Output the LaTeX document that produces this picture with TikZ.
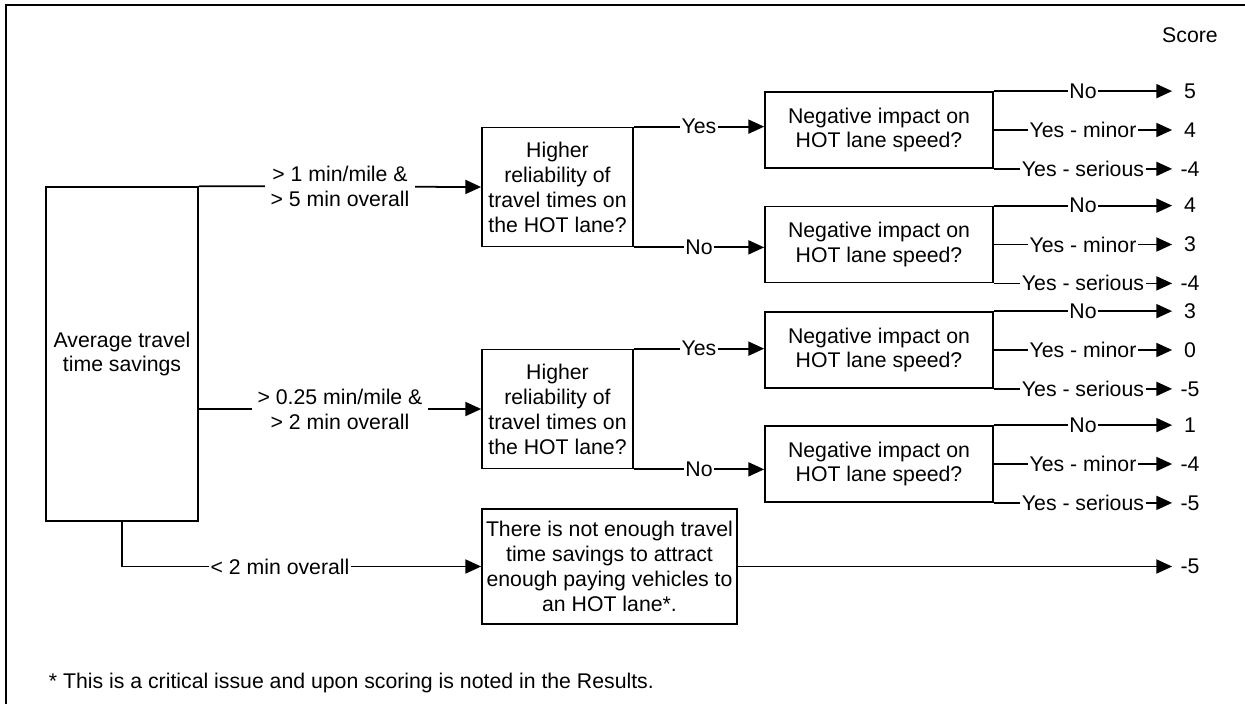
\documentclass[tikz,border=0pt]{standalone}
\usepackage{fontspec}
\setmainfont{Liberation Sans}
\usetikzlibrary{arrows.meta}

\begin{document}
\begin{tikzpicture}[x=0.02cm, y=-0.02cm, line width=1pt, every node/.style={font=\fontsize{12.1}{14.2}\selectfont},
	box/.style={draw, align=center, inner sep=0pt},
	lbl/.style={fill=white, inner sep=1pt, align=center},
	cond/.style={lbl, inner sep=3pt},
	arr/.style={-{Triangle[length=9pt,width=8pt]}},
	score/.style={minimum width=0.68cm, inner sep=0pt}]
	\useasboundingbox (0,0) rectangle (1245,704);
	\draw[line width=1.2pt] (1245,5) -- (6,5) -- (6,704);
	\coordinate (scol) at (1190,0);
	\node (scorehd) at (1190,35) {Score};
	\node[box, minimum width=3.04cm, minimum height=6.68cm] (avg) at (122,354) {Average travel\\time savings};
	\foreach \n/\y in {1/187, 2/409} {\node[box, minimum width=3.02cm, minimum height=2.38cm] (rel\n) at (557.5,\y) {Higher\\reliability of\\travel times on\\the HOT lane?};}
	\foreach \n/\y in {1/130, 2/244.5, 3/350, 4/464} {\node[box, minimum width=4.56cm, minimum height=1.52cm] (neg\n) at (879,\y) {Negative impact on\\HOT lane speed?};}
	\node[box, minimum width=5.1cm, minimum height=2.3cm] (few) at (609.5,566.5) {There is not enough travel\\time savings to attract\\enough paying vehicles to\\an HOT lane*.};
	\draw[arr] (avg.north east) -- node[cond] {> 1 min/mile \&\\> 5 min overall} (rel1.west);
	\draw[arr] (avg.east |- rel2.west) -- node[cond] {> 0.25 min/mile \&\\> 2 min overall} (rel2.west);
	\draw[arr] (avg.south) |- node[lbl, pos=0.72] {< 2 min overall} (few.west);
	\foreach \r/\a/\b in {1/1/2, 2/3/4} {
		\draw[arr] (rel\r.north east) -- node[lbl] {Yes} (rel\r.north east -| neg\a.west);
		\draw[arr] (rel\r.south east) -- node[lbl] {No} (rel\r.south east -| neg\b.west);}
	\foreach \n/\a/\b/\c in {1/5/4/-4, 2/4/3/-4, 3/3/0/-5, 4/1/-4/-5} {
		\node[score] (s\n a) at (neg\n.north east -| scol) {\a};
		\node[score] (s\n b) at (neg\n.east -| scol) {\b};
		\node[score] (s\n c) at (neg\n.south east -| scol) {\c};
		\draw[arr] (neg\n.north east) -- node[lbl] {No} (s\n a);
		\draw[arr] (neg\n.east) -- node[lbl] {Yes - minor} (s\n b);
		\draw[arr] (neg\n.south east) -- node[lbl] {Yes - serious} (s\n c);}
	\node[score] (s5) at (few.east -| scol) {-5};
	\draw[arr] (few.east) -- (s5);
	\node[anchor=west, inner sep=0pt] (note) at (48,683) {* This is a critical issue and upon scoring is noted in the Results.};
\end{tikzpicture}
\end{document}
